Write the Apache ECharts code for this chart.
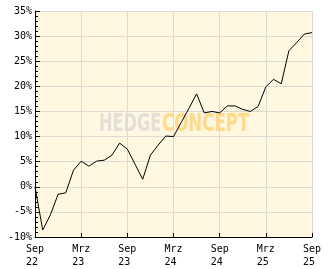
<!DOCTYPE html>
<html>
<head>
<meta charset="utf-8">
<script src="https://cdn.jsdelivr.net/npm/echarts@6/dist/echarts.min.js"></script>
<style>
html,body{margin:0;padding:0;background:#fff;}
#chart{width:332px;height:269px;}
</style>
</head>
<body>
<div id="chart"></div>
<script>
var categories = [
  'Sep 22','Okt 22','Nov 22','Dez 22','Jan 23','Feb 23','Mrz 23','Apr 23','Mai 23','Jun 23','Jul 23','Aug 23',
  'Sep 23','Okt 23','Nov 23','Dez 23','Jan 24','Feb 24','Mrz 24','Apr 24','Mai 24','Jun 24','Jul 24','Aug 24',
  'Sep 24','Okt 24','Nov 24','Dez 24','Jan 25','Feb 25','Mrz 25','Apr 25','Mai 25','Jun 25','Jul 25','Aug 25',
  'Sep 25'
];
var performance = [
  0, -8.6, -5.6, -1.5, -1.2, 3.3, 5.1, 4.1, 5.1, 5.3, 6.3, 8.7,
  7.5, 4.5, 1.5, 6.3, 8.3, 10.1, 10.0, 12.8, 15.6, 18.5, 14.7, 15.0,
  14.7, 16.1, 16.1, 15.4, 15.0, 16.0, 19.9, 21.4, 20.5, 27.1, 28.7, 30.4,
  30.7
];
var yTicks = { min: -10, max: 35, step: 5, minorStep: 1 };

var chart = echarts.init(document.getElementById('chart'), null, {renderer: 'canvas'});
var labelFont = '"DejaVu Sans Mono", monospace';
var wmFont = 'bold 25px "Liberation Sans Narrow", "DejaVu Sans Condensed", sans-serif';
chart.setOption({
  animation: false,
  backgroundColor: '#ffffff',
  grid: {
    left: 35, top: 11, width: 277, height: 226,
    show: true, backgroundColor: '#FFF7DF', borderWidth: 0
  },
  graphic: [
    {
      type: 'text', left: 99, top: 112, z: 1, scaleX: 0.72,
      style: { text: 'HEDGE', fill: '#E4E0D8', font: wmFont }
    },
    {
      type: 'text', left: 162, top: 112, z: 1, scaleX: 0.74,
      style: { text: 'CONCEPT', fill: '#FFD98C', font: wmFont }
    }
  ],
  xAxis: {
    type: 'category',
    data: categories,
    boundaryGap: false,
    z: 3,
    axisLine: { show: true, onZero: false, lineStyle: { color: '#000', width: 1 } },
    axisTick: { show: true, inside: true, length: 4, interval: 5, lineStyle: { color: '#000', width: 1 } },
    axisLabel: {
      interval: 5, margin: 6, color: '#000', fontFamily: labelFont, fontSize: 10, lineHeight: 13,
      formatter: function (v) { var p = v.split(' '); return p[0] + '\n' + p[1] + ' '; }
    },
    splitLine: { show: true, interval: 5, lineStyle: { color: '#DDDAD2', width: 1 } }
  },
  yAxis: [
    {
      type: 'value', position: 'left',
      min: yTicks.min, max: yTicks.max, interval: yTicks.step,
      z: 3,
      axisLine: { show: true, onZero: false, lineStyle: { color: '#000', width: 1 } },
      axisTick: { show: true, inside: true, length: 5, lineStyle: { color: '#000', width: 1 } },
      axisLabel: { margin: 3, color: '#000', fontFamily: labelFont, fontSize: 10, formatter: '{value}%' },
      splitLine: { show: true, lineStyle: { color: '#DDDAD2', width: 1 } }
    },
    {
      type: 'value', position: 'left', offset: 0,
      min: yTicks.min, max: yTicks.max, interval: yTicks.minorStep,
      z: 3,
      axisLine: { show: false, onZero: false },
      axisTick: { show: true, inside: true, length: 3, lineStyle: { color: '#000', width: 1 } },
      axisLabel: { show: false },
      splitLine: { show: false }
    }
  ],
  series: [{
    type: 'line',
    data: performance,
    yAxisIndex: 0,
    showSymbol: false,
    symbol: 'none',
    z: 5,
    lineStyle: { color: '#000', width: 1 }
  }]
});
</script>
</body>
</html>
